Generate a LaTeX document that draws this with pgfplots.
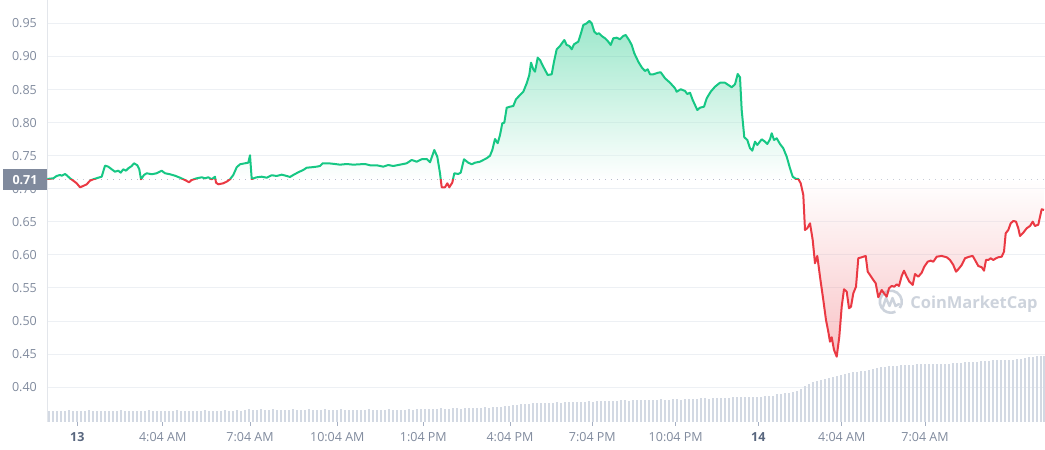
\documentclass[border=0pt]{standalone}
\usepackage{pgfplots}
\pgfplotsset{compat=1.18}
\usepackage{pgfplotstable}
\usepackage{fontspec}
\setmainfont{Open Sans}
\definecolor{cmcgreen}{HTML}{16C784}
\definecolor{cmcred}{HTML}{EA3943}
\definecolor{lbl}{HTML}{808A9D}
\definecolor{lbldark}{HTML}{58667E}
\definecolor{gridc}{HTML}{EDF0F4}
\definecolor{axisc}{HTML}{E3E6EB}
\definecolor{tickc}{HTML}{A6B0C3}
\definecolor{dotc}{HTML}{A1A7BB}
\definecolor{vol}{HTML}{D3D9E3}
\definecolor{wm}{HTML}{CDD3DC}
% price range of the closed fill polygon: 0.4459 .. 0.9538; baseline 0.714 sits at 25+50*0.528 = 51.4bp
\pgfdeclareverticalshading{greenfade}{100bp}{color(0bp)=(white); color(51.4bp)=(white); color(75bp)=(cmcgreen); color(100bp)=(cmcgreen)}
\pgfdeclareverticalshading{redfade}{100bp}{color(0bp)=(cmcred); color(25bp)=(cmcred); color(51.4bp)=(white); color(100bp)=(white)}

\pgfplotstableread{
x y
47.3 0.7148
53.3 0.7158
56.7 0.7193
60 0.7208
61.7 0.7197
65 0.7223
66.7 0.7204
70 0.7158
73.3 0.7122
76.7 0.7082
80 0.7022
83.3 0.7042
86.7 0.7067
90 0.7122
93.3 0.7143
98.3 0.7167
101.7 0.7182
105 0.7349
108.3 0.7334
111.7 0.7294
115 0.7258
118.3 0.7273
120.7 0.7243
123.3 0.7294
126 0.7273
128.3 0.7309
131.7 0.7344
134 0.7385
137.3 0.7355
139.3 0.7294
141 0.7143
144 0.7208
146.7 0.7234
151.7 0.7219
156.7 0.7234
161.7 0.7273
165 0.7234
170 0.7219
175 0.7197
180 0.7167
185 0.7132
189 0.7098
191.7 0.7132
196.7 0.7158
201.7 0.7173
205 0.7158
208.3 0.7173
211.7 0.7143
215 0.7182
216 0.7092
218.3 0.7067
223.3 0.7082
226.7 0.7107
230 0.7143
233.3 0.7208
236.7 0.7325
240 0.7370
245 0.7385
248.3 0.7394
250 0.7506
251.7 0.7148
256.7 0.7173
261.7 0.7182
266.7 0.7167
271.7 0.7204
276.7 0.7193
281.7 0.7213
286.7 0.7193
290 0.7178
293.3 0.7208
298.3 0.7249
303.3 0.7284
306.7 0.7318
311.7 0.7325
316.7 0.7334
320 0.7344
322.7 0.7385
328.3 0.7385
335 0.7374
340 0.7364
346.7 0.7374
353.3 0.7364
360 0.7370
365 0.7374
370 0.7355
376.7 0.7355
383.3 0.7334
388.3 0.7359
393.3 0.7344
400 0.7364
406.7 0.7385
411.7 0.7435
416.7 0.7409
421.7 0.7446
426.7 0.7450
430 0.7400
434.3 0.7586
437.3 0.7485
440 0.7234
441.7 0.7022
445 0.7022
447.3 0.7082
449.3 0.7022
452.3 0.7092
454.3 0.7234
458.3 0.7223
460.7 0.7243
464 0.7446
468.3 0.7394
471.7 0.7370
475 0.7394
480 0.7409
483.3 0.7435
486.7 0.7461
490 0.7500
492.3 0.7586
495 0.7753
497.7 0.7688
500 0.7813
502.3 0.7990
504.3 0.7999
506.7 0.8226
510 0.8241
513.3 0.8252
516 0.8353
520 0.8418
523.3 0.8468
526.7 0.8595
529.3 0.8721
531 0.8907
533.3 0.8807
535 0.8771
537.7 0.8983
540 0.8948
543.3 0.8846
547.7 0.8721
551.7 0.8731
554 0.8922
556.7 0.9110
560 0.9160
564.3 0.9250
566.7 0.9175
569.3 0.9160
571.7 0.9110
574 0.9185
578.3 0.9225
581 0.9352
583.3 0.9477
586.7 0.9503
589.3 0.9538
591.7 0.9503
594.3 0.9376
596.7 0.9341
599 0.9352
601.7 0.9311
605 0.9276
608.3 0.9225
610.7 0.9175
613.3 0.9276
616.7 0.9285
620 0.9261
623.3 0.9311
625.7 0.9326
629 0.9250
631.7 0.9175
634.3 0.9049
638.3 0.8922
641.7 0.8837
645 0.8781
647.7 0.8807
650 0.8731
653.3 0.8731
658.3 0.8756
660.7 0.8762
665 0.8671
670 0.8604
675 0.8520
676.7 0.8468
680.7 0.8505
685 0.8479
687.3 0.8433
690 0.8453
692.7 0.8343
695 0.8267
697.3 0.8191
700 0.8226
704 0.8241
706.7 0.8368
710.7 0.8468
715 0.8544
720 0.8604
725 0.8604
728.3 0.8570
731.7 0.8535
735 0.8580
737.7 0.8736
740 0.8686
741.7 0.8191
744.3 0.7778
747.3 0.7738
750 0.7612
752.3 0.7576
755 0.7712
757.3 0.7662
761.7 0.7748
765 0.7712
767.3 0.7677
770 0.7748
771.7 0.7839
774 0.7738
776.7 0.7763
780 0.7677
783.3 0.7612
786.7 0.7485
790 0.7309
792.7 0.7182
796 0.7148
798.3 0.7148
800.7 0.7082
803.3 0.6906
805 0.6376
807.3 0.6402
810 0.6477
812.7 0.6225
815 0.5872
817.3 0.5983
820 0.5669
823.3 0.5317
826 0.5014
828.3 0.4837
830 0.4686
831.7 0.4753
834 0.4561
836.7 0.4459
839.3 0.4762
841.7 0.5216
844 0.5479
846.7 0.5443
849 0.5191
851 0.5216
853.3 0.5418
856 0.5518
858.3 0.5948
861.7 0.5963
865.7 0.5983
867.7 0.5745
870 0.5695
873.3 0.5620
875.7 0.5570
878.3 0.5358
881.7 0.5468
884 0.5418
886.7 0.5367
889 0.5494
891.7 0.5529
894.3 0.5518
896.7 0.5554
899 0.5529
901.7 0.5680
904 0.5760
906.7 0.5669
909.3 0.5594
912.7 0.5544
915 0.5710
918.3 0.5669
921.7 0.5730
924.3 0.5821
927.7 0.5896
930.7 0.5912
933.3 0.5896
936.7 0.5972
941.7 0.5983
946.7 0.5963
950 0.5922
953.3 0.5846
956 0.5745
958.3 0.5781
961.7 0.5846
965 0.5948
969.3 0.5972
972.7 0.5983
975 0.5922
978.3 0.5831
981.7 0.5812
984 0.5760
986 0.5922
988.3 0.5922
990.7 0.5948
993.3 0.5922
996 0.5948
998.3 0.5963
1001.7 0.5972
1004 0.6048
1005.7 0.6326
1008.3 0.6376
1010.7 0.6477
1013.3 0.6512
1016 0.6502
1018.3 0.6402
1020 0.6285
1023.3 0.6335
1026.7 0.6402
1030 0.6436
1032.7 0.6502
1035 0.6436
1038.3 0.6456
1040 0.6577
1041.7 0.6689
1044 0.6679
}\price

\pgfplotstableread{
x h
49 10.5
53 11
57 10.5
61 11
65 10.5
69 11.5
73 10.5
77 11
81 10.5
85 11
89 11.5
93 10.5
97 11
101 10.5
105 11
109 11
113 10.5
117 11
121 11.5
125 10.5
129 11
133 10.5
137 11
141 10.5
145 11
149 11.5
153 11
157 10.5
161 11
165 11
169 10.5
173 11
177 11.5
181 10.5
185 11
189 11
193 10.5
197 11
201 11
205 11.5
209 11
213 10.5
217 11
221 11
225 11.5
229 11
233 11
237 11.5
241 11
245 12
249 12.5
253 11.5
257 12
261 12.5
265 11.5
269 12
273 12.5
277 11.5
281 12
285 11.5
289 12
293 12.5
297 11.5
301 12
305 11.5
309 12.5
313 12
317 11.5
321 12
325 12.5
329 12
333 11.5
337 12
341 12.5
345 12
349 11.5
353 12
357 12
361 11.5
365 12
369 12.5
373 11.5
377 12
381 11.5
385 12
389 12.5
393 12
397 11.5
401 12
405 12
409 12.5
413 12
417 12.5
421 12.5
425 13
429 12.5
433 13
437 13
441 13.5
445 13
449 13
453 13.5
457 13.5
461 13
465 13.5
469 14
473 13.5
477 14
481 14
485 14.5
489 14
493 14.5
497 14.5
501 15
505 15.5
509 16
513 16.5
517 17
521 17.5
525 18
529 18
533 18.5
537 18.5
541 19
545 18.5
549 19
553 19
557 19.5
561 19
565 19.5
569 19.5
573 20
577 19.5
581 20
585 20
589 20.5
593 20
597 20.5
601 20.5
605 21
609 21
613 20.5
617 21
621 21.5
625 21.5
629 21
633 21.5
637 22
641 21.5
645 22
649 22
653 21.5
657 22
661 22.5
665 22
669 22
673 22.5
677 22.5
681 22
685 22.5
689 23
693 22.5
697 23
701 23.5
705 23.5
709 23
713 23.5
717 23.5
721 23.5
725 24
729 23.5
733 24.5
737 24.5
741 24.5
745 24.5
749 25
753 24.5
757 25
761 25
765 25.5
769 25.5
773 26
777 28
781 28
785 28.5
789 29
793 30
797 31
801 33
805 36
809 38
813 40
817 41
821 42
825 43
829 44
833 45
837 46
841 47
845 48
849 49
853 50
857 50
861 51
865 51
869 52
873 53
877 54
881 55
885 55
889 55.5
893 56
897 56
901 56.5
905 57
909 57
913 57
917 57.5
921 57.5
925 57.5
929 57.5
933 58
937 58
941 58
945 58
949 58
953 58.5
957 58.5
961 59
965 59.5
969 60
973 60
977 60
981 60.5
985 60.5
989 61
993 61.5
997 61.5
1001 61.5
1005 62
1009 62
1013 62
1017 62.5
1021 63
1025 64
1029 64.5
1033 65
1037 65.5
1041 66
1044 66
}\vol

\begin{document}
\begin{tikzpicture}
\begin{axis}[
  name=main,
  at={(47pt,28pt)}, anchor=south west,
  x=1pt, y=661pt,
  xmin=47, xmax=1045, ymin=0.3471, ymax=0.9856,
  enlargelimits=false,
  axis line style={draw=none},
  no markers,
  ymajorgrids,
  grid style={gridc, line width=0.8pt},
  ytick={0.40,0.45,0.50,0.55,0.60,0.65,0.70,0.75,0.80,0.85,0.90,0.95},
  ytick style={draw=none},
  xtick={77.3,162.7,250,337.3,423.3,510,592.3,675.7,758.3,841.7,925},
  xticklabels={{\color{lbldark}\bfseries 13},4:04 AM,7:04 AM,10:04 AM,1:04 PM,4:04 PM,7:04 PM,10:04 PM,{\color{lbldark}\bfseries 14},4:04 AM,7:04 AM},
  xtick pos=bottom, ytick pos=left,
  tick align=outside, major tick length=3.5pt,
  xtick style={tickc, line width=0.8pt},
  ticklabel style={font=\fontsize{12.5}{15}\selectfont, text=lbl, inner sep=0pt},
  yticklabel style={xshift=-6.5pt, /pgf/number format/fixed, /pgf/number format/fixed zerofill, /pgf/number format/precision=2},
  xticklabel style={yshift=-6.8pt},
  /pgf/number format/assume math mode=true,
]
\addplot[dotc, line width=1pt, dash pattern=on 1pt off 5pt] coordinates {(47,0.714) (1045,0.714)};
\draw[axisc, line width=0.8pt] (rel axis cs:0,0) -- (rel axis cs:0,1);
\coordinate (bl) at (axis cs:47,0.714);
\end{axis}

\begin{axis}[
  at={(47pt,28pt)}, anchor=south west,
  x=1pt, y=1pt, xmin=47, xmax=1045, ymin=0, ymax=422,
  enlargelimits=false, hide axis,
]
\addplot[ycomb, vol, line width=1.2pt, no markers] table[x=x, y=h] {\vol};
\end{axis}

% watermark
\draw[wm, line width=2.6pt] (890.8pt,148.3pt) ++(-35:11pt) arc (-35:295:11pt);
\draw[wm, line width=2.4pt, line join=round, line cap=round]
  (883pt,143pt) -- (886pt,152pt) -- (889.5pt,144pt) -- (892.5pt,152pt) -- (895.5pt,144pt) -- (899pt,146pt);
\node[text=wm, font=\fontsize{16.5}{20}\selectfont\bfseries, inner sep=0pt] at (974pt,145.8pt) {CoinMarketCap};

% part above the opening price: green
\begin{axis}[
  at={(bl)}, anchor=south west,
  x=1pt, y=661pt, xmin=47, xmax=1045, ymin=0.714, ymax=0.9856,
  enlargelimits=false, hide axis,
]
\addplot[draw=none, shade, shading=greenfade, fill opacity=0.42, no markers]
  table[x=x, y=y] {\price} -- (axis cs:1044,0.714) -- (axis cs:47.3,0.714) -- cycle;
\addplot[cmcgreen, line width=2pt, line join=round, no markers] table[x=x, y=y] {\price};
\end{axis}

% part below the opening price: red
\begin{axis}[
  at={(bl)}, anchor=north west,
  x=1pt, y=661pt, xmin=47, xmax=1045, ymin=0.3471, ymax=0.714,
  enlargelimits=false, hide axis,
]
\addplot[draw=none, shade, shading=redfade, fill opacity=0.3, no markers]
  table[x=x, y=y] {\price} -- (axis cs:1044,0.714) -- (axis cs:47.3,0.714) -- cycle;
\addplot[cmcred, line width=2pt, line join=round, no markers] table[x=x, y=y] {\price};
\end{axis}

\node[fill=lbl, text=white, minimum width=43.4pt, minimum height=20.7pt, inner sep=0pt,
  font=\fontsize{12.5}{15}\selectfont\bfseries] at (25pt,270.4pt) {0.71};

\pgfresetboundingbox
\path[use as bounding box] (0,0) rectangle (1045pt,450pt);
\end{tikzpicture}
\end{document}
